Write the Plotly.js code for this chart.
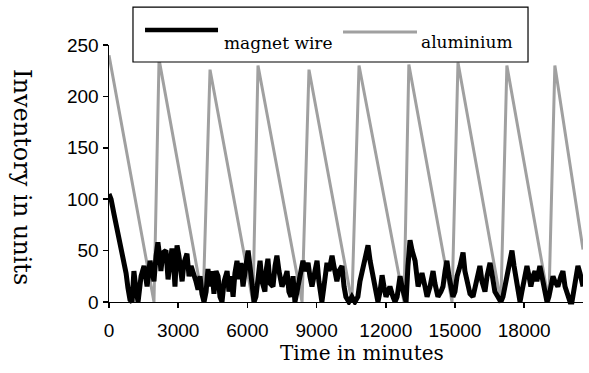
<!DOCTYPE html>
<html>
<head>
<meta charset="utf-8">
<script src="https://cdn.plot.ly/plotly-3.0.1.min.js"></script>
<style>html,body{margin:0;padding:0;background:#fff;}#chart{width:589px;height:373px;}</style>
</head>
<body>
<div id="chart"></div>
<script>
// Time in minutes (magnet wire readings)
const magnetTime = [
0,90,220,350,480,610,740,820,910,1000,
1080,1170,1260,1390,1520,1650,1780,1860,1950,2040,
2120,2210,2250,2340,2470,2560,2640,2730,2820,2860,
2950,3030,3170,3250,3380,3470,3560,3640,3770,3860,
3950,4030,4120,4210,4290,4380,4470,4550,4640,4730,
4810,4900,4990,5120,5200,5290,5380,5460,5550,5640,
5720,5810,5900,6030,6110,6200,6290,6370,6460,6550,
6630,6760,6810,6890,6980,7110,7200,7280,7370,7500,
7590,7720,7800,7890,7980,8060,8150,8280,8410,8500,
8630,8710,8800,8930,9020,9100,9230,9320,9450,9540,
9670,9750,9880,9970,10100,10190,10270,10400,10530,10660,
10790,10880,10970,11100,11230,11320,11440,11530,11660,11750,
11840,11920,12010,12100,12180,12310,12400,12490,12620,12700,
12790,12880,12960,13050,13140,13270,13400,13480,13570,13700,
13790,13920,14050,14130,14260,14390,14480,14570,14650,14740,
14830,14910,15000,15090,15220,15350,15430,15560,15650,15780,
15870,16000,16080,16170,16300,16390,16520,16600,16730,16860,
16990,17080,17170,17250,17380,17470,17560,17690,17820,17900,
17990,18120,18210,18290,18380,18470,18550,18680,18770,18900,
18990,19070,19160,19250,19330,19460,19590,19680,19770,19900,
19990,20070,20160,20250,20330,20420,20550
];
const magnetUnits = [
105,100,85,72,58,45,28,14,2,0,
30,12,0,25,35,15,40,30,20,45,
58,42,30,48,50,22,40,52,30,15,
55,45,20,38,47,25,35,30,20,12,
25,8,0,10,32,15,30,8,30,25,
5,0,20,30,10,25,5,28,40,22,
38,15,30,50,35,10,0,5,25,40,
20,10,30,42,18,15,35,45,30,15,
20,30,10,5,25,0,10,25,40,30,
38,25,15,30,40,20,0,15,38,30,
45,35,20,30,35,15,5,0,5,0,
5,20,30,45,55,40,25,15,0,10,
26,15,5,10,15,5,0,5,25,15,
5,0,35,60,50,40,15,20,28,15,
5,15,30,18,5,10,15,30,40,25,
10,5,10,25,35,48,30,15,8,5,
15,30,35,20,10,25,38,28,10,5,
0,5,15,25,40,50,35,15,0,10,
20,35,25,15,25,30,20,35,25,10,
0,5,15,25,20,15,25,30,15,5,
0,0,15,25,35,28,15
];
// Aluminium sawtooth
const aluTime  = [0,1950,2170,4080,4380,6240,6460,8370,8670,10530,10840,12790,13000,14870,15130,16990,17250,19070,19330,20550];
const aluUnits = [240,0,236,0,226,0,230,0,226,0,230,0,231,0,233,0,230,0,230,51];

const xTicks = [0,3000,6000,9000,12000,15000,18000];
const yTicks = [0,50,100,150,200,250];
const seriesNames = ['magnet wire','aluminium'];

const traces = [
  {x: aluTime, y: aluUnits, mode:'lines', name: seriesNames[1],
   line:{color:'#a0a0a0', width:3}, showlegend:false},
  {x: magnetTime, y: magnetUnits, mode:'lines', name: seriesNames[0],
   line:{color:'#000000', width:5}, showlegend:false}
];

const tickFont = {family:'"Liberation Sans", Arial, sans-serif', size:19, color:'#000'};
const serif = '"DejaVu Serif", serif';

const layout = {
  width:589, height:373,
  margin:{l:109, r:6, t:45, b:68},
  paper_bgcolor:'#fff', plot_bgcolor:'#fff',
  showlegend:false,
  xaxis:{
    range:[0,20550], tickvals:xTicks, ticktext:xTicks.map(String),
    showgrid:false, zeroline:false, showline:true, linecolor:'#000', linewidth:1.5,
    ticks:'outside', ticklen:5, tickwidth:1.5, tickcolor:'#000',
    tickfont:tickFont, ticklabelstandoff:6,
    anchor:'free', position:3/253
  },
  yaxis:{
    range:[-3,250], tickvals:yTicks, ticktext:yTicks.map(String),
    showgrid:false, zeroline:false, showline:true, linecolor:'#000', linewidth:1.5,
    ticks:'outside', ticklen:5, tickwidth:1.5, tickcolor:'#000',
    tickfont:tickFont
  },
  shapes:[
    {type:'rect', xref:'paper', yref:'paper', x0:0.0506, x1:0.884, y0:0.9346, y1:1.146,
     line:{color:'#000', width:1.2}, fillcolor:'#fff', layer:'above'},
    {type:'line', xref:'paper', yref:'paper', x0:0.076, x1:0.23, y0:1.0577, y1:1.0577,
     line:{color:'#000', width:4.5}, layer:'above'},
    {type:'line', xref:'paper', yref:'paper', x0:0.4937, x1:0.6498, y0:1.05, y1:1.05,
     line:{color:'#a0a0a0', width:3}, layer:'above'}
  ],
  annotations:[
    {xref:'paper', yref:'paper', x:0.2384, y:1.0077, xanchor:'left', yanchor:'middle',
     text:seriesNames[0], showarrow:false, font:{family:serif, size:17, color:'#000'}},
    {xref:'paper', yref:'paper', x:0.654, y:1.0115, xanchor:'left', yanchor:'middle',
     text:seriesNames[1], showarrow:false, font:{family:serif, size:17, color:'#000'}},
    {xref:'paper', yref:'paper', x:0.534, y:-0.1846, xanchor:'center', yanchor:'middle',
     text:'Time in minutes', showarrow:false, font:{family:serif, size:20, color:'#000'}},
    {xref:'paper', yref:'paper', x:-0.1835, y:0.492, xanchor:'center', yanchor:'middle',
     text:'Inventory in units', textangle:90, showarrow:false, font:{family:serif, size:24, color:'#000'}}
  ]
};

Plotly.newPlot('chart', traces, layout, {staticPlot:true, displayModeBar:false});
</script>
</body>
</html>
